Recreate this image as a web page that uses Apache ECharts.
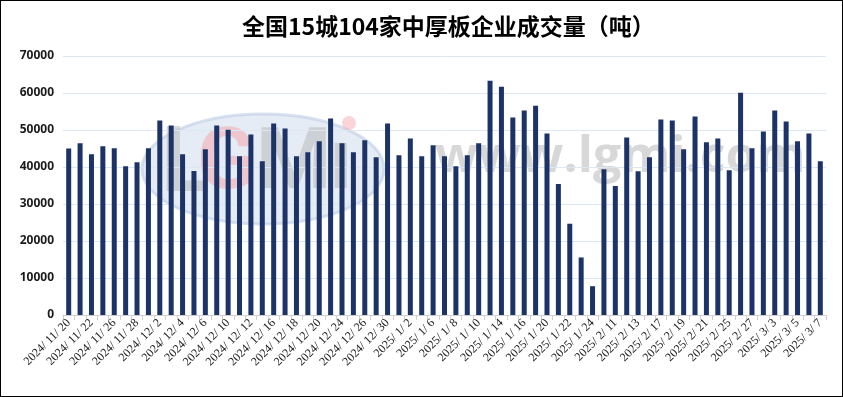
<!DOCTYPE html>
<html>
<head>
<meta charset="utf-8">
<script src="https://cdn.jsdelivr.net/npm/echarts@6/dist/echarts.min.js"></script>
<style>
  html, body { margin: 0; padding: 0; background: #fff; }
  #main { width: 843px; height: 397px; box-sizing: border-box; border: 1.5px solid #000; }
</style>
</head>
<body>
<div id="main"></div>
<script>
// 日期（交易日）
var dates = [
  '2024/11/20','2024/11/21','2024/11/22','2024/11/25','2024/11/26','2024/11/27','2024/11/28','2024/11/29',
  '2024/12/2','2024/12/3','2024/12/4','2024/12/5','2024/12/6','2024/12/9','2024/12/10','2024/12/11',
  '2024/12/12','2024/12/13','2024/12/16','2024/12/17','2024/12/18','2024/12/19','2024/12/20','2024/12/23',
  '2024/12/24','2024/12/25','2024/12/26','2024/12/27','2024/12/30','2024/12/31','2025/1/2','2025/1/3',
  '2025/1/6','2025/1/7','2025/1/8','2025/1/9','2025/1/10','2025/1/13','2025/1/14','2025/1/15',
  '2025/1/16','2025/1/17','2025/1/20','2025/1/21','2025/1/22','2025/1/23','2025/1/24','2025/2/10',
  '2025/2/11','2025/2/12','2025/2/13','2025/2/14','2025/2/17','2025/2/18','2025/2/19','2025/2/20',
  '2025/2/21','2025/2/24','2025/2/25','2025/2/26','2025/2/27','2025/2/28','2025/3/3','2025/3/4',
  '2025/3/5','2025/3/6','2025/3/7'
];
// 成交量（吨）
var volume = [
  45000, 46400, 43450, 45600, 45050, 40200, 41300, 45050,
  52560, 51200, 43450, 38900, 44800, 51200, 50100, 42900,
  48800, 41560, 51750, 50400, 42900, 43980, 46930, 53100,
  46400, 43980, 47200, 42640, 51750, 43180, 47730, 42900,
  45860, 42900, 40200, 43180, 46400, 63290, 61680, 53370,
  55240, 56580, 49070, 35400, 24670, 15550, 7780, 39420,
  34860, 48000, 38880, 42640, 52830, 52560, 44780, 53630,
  46660, 47730, 39150, 60070, 45050, 49610, 55240, 52290,
  46930, 49070, 41560
];
var yTicks = [0, 10000, 20000, 30000, 40000, 50000, 60000, 70000];

var chart = echarts.init(document.getElementById('main'));
var option = {
  animation: false,
  title: {
    text: '全国15城104家中厚板企业成交量（吨）',
    left: 236,
    top: 9,
    textStyle: {
      fontFamily: 'Noto Sans CJK SC',
      fontSize: 23,
      fontWeight: 'bold',
      color: '#000'
    }
  },
  graphic: [
    // 水印
    { type: 'ellipse', shape: { cx: 262, cy: 168, rx: 121, ry: 55 }, z: -10,
      style: { fill: 'rgba(200,213,232,0.45)', stroke: 'rgba(190,205,228,0.6)', lineWidth: 3 } },
    { type: 'text', x: 160, y: 122, z: -9,
      style: { text: 'L', font: 'bold 90px Roboto', fill: 'rgba(185,185,185,0.55)' } },
    { type: 'text', x: 196, y: 122, z: -9,
      style: { text: 'G', font: 'bold 86px Roboto', fill: 'rgba(245,160,165,0.5)' } },
    { type: 'text', x: 255, y: 122, z: -9,
      style: { text: 'M', font: 'bold 86px Roboto', fill: 'rgba(185,185,185,0.55)' } },
    { type: 'text', x: 328, y: 122, z: -9,
      style: { text: 'ı', font: 'bold 86px Roboto', fill: 'rgba(185,185,185,0.55)' } },
    { type: 'circle', shape: { cx: 348, cy: 122, r: 7 }, z: -9,
      style: { fill: 'rgba(245,170,175,0.5)' } },
    { type: 'text', x: 434, y: 132, z: -9,
      style: { text: 'www.lgmi.com', font: 'bold 50px "Open Sans"', fill: 'rgba(200,200,200,0.7)' } }
  ],
  grid: {
    left: 62,
    right: 16,
    top: 55,
    bottom: 81
  },
  xAxis: {
    type: 'category',
    data: dates,
    boundaryGap: true,
    axisLine: { lineStyle: { color: '#d0d0d0', width: 1 } },
    axisTick: { show: true, interval: 0, length: 5, lineStyle: { color: '#d0d0d0' } },
    axisLabel: {
      interval: 1,
      rotate: 45,
      margin: 6,
      fontFamily: 'Liberation Serif',
      fontSize: 12,
      color: '#222',
      formatter: function (v) { return v.split('/').join('/ '); }
    }
  },
  yAxis: {
    type: 'value',
    min: yTicks[0],
    max: yTicks[yTicks.length - 1],
    interval: 10000,
    axisLine: { show: false },
    axisTick: { show: false },
    splitLine: { lineStyle: { color: '#dde7f1', width: 1 } },
    axisLabel: {
      margin: 9,
      fontFamily: 'Noto Sans',
      fontSize: 12,
      fontWeight: 'bold',
      color: '#1a1a1a',
      formatter: function (v) { return String(v); }
    }
  },
  series: [{
    name: '成交量',
    type: 'bar',
    data: volume,
    barWidth: 5,
    itemStyle: { color: '#1b3367' },
    z: 2
  }]
};
chart.setOption(option);
</script>
</body>
</html>
